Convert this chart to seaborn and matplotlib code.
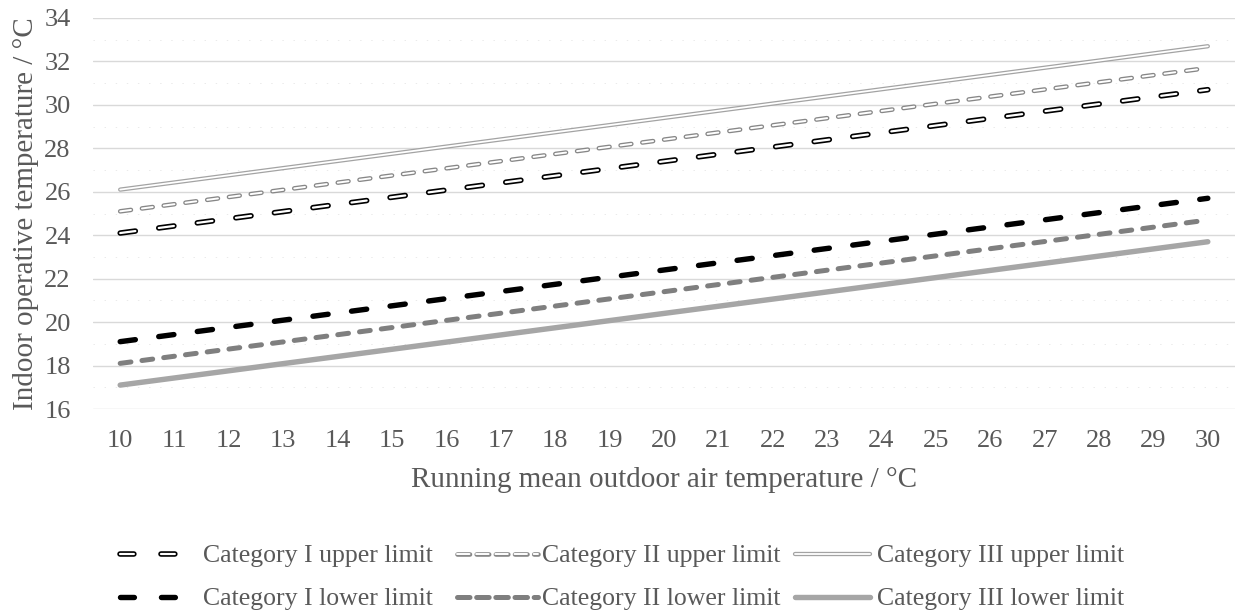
import matplotlib
matplotlib.use("Agg")
import matplotlib.pyplot as plt
import matplotlib.patheffects as pe
from matplotlib.lines import Line2D
from matplotlib.ticker import MultipleLocator
import seaborn as sns
import pandas as pd

# Running mean outdoor air temperature (°C)
t_rm = [10, 11, 12, 13, 14, 15, 16, 17, 18, 19, 20,
        21, 22, 23, 24, 25, 26, 27, 28, 29, 30]

# Indoor operative temperature limits (°C)
cat1_upper = [24.10, 24.43, 24.76, 25.09, 25.42, 25.75, 26.08, 26.41, 26.74, 27.07, 27.40,
              27.73, 28.06, 28.39, 28.72, 29.05, 29.38, 29.71, 30.04, 30.37, 30.70]
cat2_upper = [25.10, 25.43, 25.76, 26.09, 26.42, 26.75, 27.08, 27.41, 27.74, 28.07, 28.40,
              28.73, 29.06, 29.39, 29.72, 30.05, 30.38, 30.71, 31.04, 31.37, 31.70]
cat3_upper = [26.10, 26.43, 26.76, 27.09, 27.42, 27.75, 28.08, 28.41, 28.74, 29.07, 29.40,
              29.73, 30.06, 30.39, 30.72, 31.05, 31.38, 31.71, 32.04, 32.37, 32.70]
cat1_lower = [19.10, 19.43, 19.76, 20.09, 20.42, 20.75, 21.08, 21.41, 21.74, 22.07, 22.40,
              22.73, 23.06, 23.39, 23.72, 24.05, 24.38, 24.71, 25.04, 25.37, 25.70]
cat2_lower = [18.10, 18.43, 18.76, 19.09, 19.42, 19.75, 20.08, 20.41, 20.74, 21.07, 21.40,
              21.73, 22.06, 22.39, 22.72, 23.05, 23.38, 23.71, 24.04, 24.37, 24.70]
cat3_lower = [17.10, 17.43, 17.76, 18.09, 18.42, 18.75, 19.08, 19.41, 19.74, 20.07, 20.40,
              20.73, 21.06, 21.39, 21.72, 22.05, 22.38, 22.71, 23.04, 23.37, 23.70]

labels_upper = ["Category I upper limit", "Category II upper limit", "Category III upper limit"]
labels_lower = ["Category I lower limit", "Category II lower limit", "Category III lower limit"]

sns.set_theme(style="white")
plt.rcParams["font.family"] = ["Liberation Serif", "DejaVu Serif"]
plt.rcParams["lines.scale_dashes"] = False
TEXT = "#595959"

df = pd.DataFrame({"t": t_rm,
                   "u1": cat1_upper, "u2": cat2_upper, "u3": cat3_upper,
                   "l1": cat1_lower, "l2": cat2_lower, "l3": cat3_lower})

W, H = 1235, 614
fig = plt.figure(figsize=(W / 100, H / 100), dpi=100)
ax = fig.add_axes([93 / W, 1 - 409 / H, 1142 / W, 391 / H])

dash1 = (11.0, 17.0)
dash2 = (7.8, 8.0)
# (column, colour, outer width, white core width, dashes in plot, dashes in legend)
upper_specs = [("u1", "#000000", 4.0, 1.6, dash1, (10.0, 19.5)),
               ("u2", "#878787", 3.3, 1.4, dash2, (9.0, 4.8)),
               ("u3", "#a3a3a3", 3.1, 1.3, None, None)]
lower_specs = [("l1", "#000000", 3.9, dash1, (10.0, 19.5)),
               ("l2", "#7f7f7f", 3.6, dash2, (9.0, 4.8)),
               ("l3", "#a6a6a6", 3.9, None, None)]

caps = dict(solid_capstyle="round", dash_capstyle="round")

handles_up = []
for col, color, lw, core, dash, ldash in upper_specs:
    outline = [pe.Stroke(linewidth=lw, foreground=color), pe.Normal()]
    sns.lineplot(data=df, x="t", y=col, ax=ax, color="white", linewidth=core,
                 path_effects=outline, zorder=3, **caps)
    ln = ax.lines[-1]
    h = Line2D([], [], color="white", linewidth=core, path_effects=outline, **caps)
    if dash is not None:
        ln.set_dashes(dash)
        h.set_dashes(ldash)
    handles_up.append(h)

handles_low = []
for col, color, lw, dash, ldash in lower_specs:
    sns.lineplot(data=df, x="t", y=col, ax=ax, color=color, linewidth=lw,
                 zorder=3, **caps)
    ln = ax.lines[-1]
    h = Line2D([], [], color=color, linewidth=lw, **caps)
    if dash is not None:
        ln.set_dashes(dash)
        h.set_dashes(ldash)
    handles_low.append(h)

ax.set_xlim(9.5, 30.5)
ax.set_ylim(16, 34)
ax.set_xticks(t_rm)
ax.yaxis.set_major_locator(MultipleLocator(2))
ax.yaxis.set_minor_locator(MultipleLocator(1))
ax.grid(axis="y", which="major", color="#d9d9d9", linewidth=1.0, zorder=0)
ax.grid(axis="y", which="minor", color="#e6e6e6", linewidth=0.6,
        linestyle=(0, (1, 7)), zorder=0)
ax.grid(axis="x", visible=False)
for s in ax.spines.values():
    s.set_visible(False)
ax.tick_params(axis="both", which="both", length=0, labelsize=19, labelcolor=TEXT)
ax.tick_params(axis="x", pad=15)
ax.tick_params(axis="y", pad=16)
ax.set_xlabel("Running mean outdoor air temperature / °C", fontsize=21,
              color=TEXT, labelpad=11)
ax.set_ylabel("Indoor operative temperature / °C", fontsize=21, color=TEXT,
              labelpad=4)

# Legend: three columns, upper limits on the first row, lower limits below
LEG_FS = 18.5
fs_px = LEG_FS * 100 / 72
columns = [(120, 60, 23), (457, 81, 4), (795, 75, 7)]  # handle x, handle length, gap (px)
rows_y = [556, 599]
for (x0, hl, gap), hu, hlo, lu, llo in zip(columns, handles_up, handles_low,
                                           labels_upper, labels_lower):
    for h, lab, y in ((hu, lu, rows_y[0]), (hlo, llo, rows_y[1])):
        leg = fig.legend([h], [lab], loc="center left",
                         bbox_to_anchor=(x0 / W, 1 - y / H),
                         frameon=False, fontsize=LEG_FS, borderpad=0,
                         borderaxespad=0, handlelength=hl / fs_px,
                         handletextpad=gap / fs_px)
        for t in leg.get_texts():
            t.set_color(TEXT)

fig.savefig("out.png", dpi=100)
